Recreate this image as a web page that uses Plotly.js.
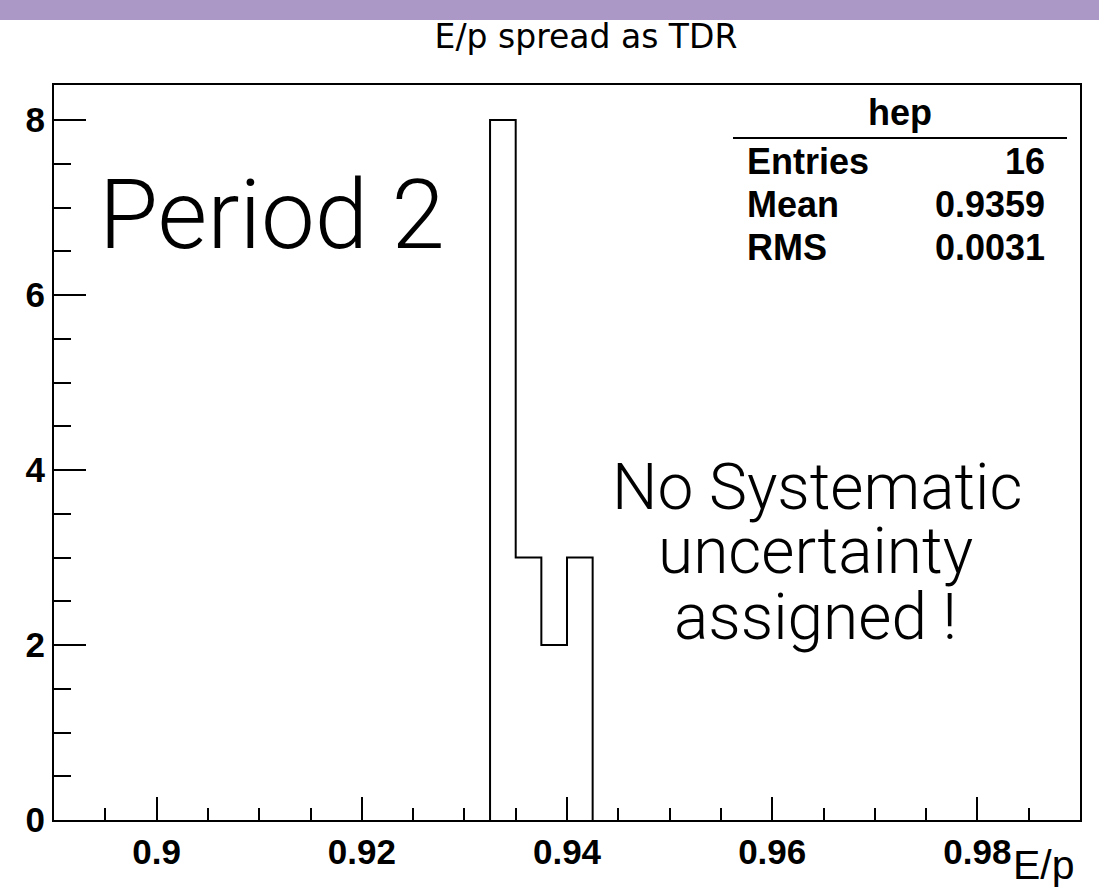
<!DOCTYPE html>
<html>
<head>
<meta charset="utf-8">
<script src="https://cdn.plot.ly/plotly-3.0.1.min.js"></script>
<style>
html,body{margin:0;padding:0;background:#fff;}
#chart{width:1099px;height:894px;}
</style>
</head>
<body>
<div id="chart"></div>
<script>
// Histogram data (bin low edges and counts)
const binLowEdges = [0.9325, 0.935, 0.9375, 0.94];
const binWidth = 0.0025;
const counts = [8, 3, 2, 3];

// Stats box
const statsTitle = "hep";
const statLabels = ["Entries", "Mean", "RMS"];
const statValues = ["16", "0.9359", "0.0031"];

// Step outline built from the bins
const stepX = [binLowEdges[0]];
const stepY = [0];
for (let i = 0; i < counts.length; i++) { stepX.push(binLowEdges[i]); stepY.push(counts[i]); }
stepX.push(binLowEdges[binLowEdges.length - 1] + binWidth); stepY.push(0);

const W = 1099, H = 894;
const L = 54, R = 19, T = 85, B = 74;
const pw = W - L - R, ph = H - T - B;
const px = x => (x - L) / pw;
const py = y => (H - B - y) / ph;

const boldFont = {family: "Liberation Sans, Arial, sans-serif", size: 36, color: "#000", weight: 700};
const lightFont = sz => ({family: "Roboto, 'Open Sans', sans-serif", size: sz, color: "#000", weight: 300});

const annotations = [
  {text: statsTitle, x: px(900), y: py(113), xanchor: "center", yanchor: "middle", font: boldFont},
  {text: "Period 2", x: px(97), y: py(215), xanchor: "left", yanchor: "middle", font: lightFont(96)},
  {text: "No Systematic", x: px(817), y: py(487), xanchor: "center", yanchor: "middle", font: lightFont(64)},
  {text: "uncertainty", x: px(815), y: py(551), xanchor: "center", yanchor: "middle", font: lightFont(64)},
  {text: "assigned !", x: px(815), y: py(617), xanchor: "center", yanchor: "middle", font: lightFont(64)},
  {text: "E/p", x: px(1077), y: py(865), xanchor: "right", yanchor: "middle", font: {family: "Liberation Sans, Arial, sans-serif", size: 41, color: "#000"}}
];
const rowsY = [162, 205, 248];
statLabels.forEach((lab, i) => {
  annotations.push({text: lab, x: px(745), y: py(rowsY[i]), xanchor: "left", yanchor: "middle", font: boldFont});
  annotations.push({text: statValues[i], x: px(1047), y: py(rowsY[i]), xanchor: "right", yanchor: "middle", font: boldFont});
});
annotations.forEach(a => { a.xref = "paper"; a.yref = "paper"; a.showarrow = false; });

const data = [{
  type: "scatter", mode: "lines", x: stepX, y: stepY,
  line: {shape: "hv", color: "#000", width: 2}, hoverinfo: "skip"
}];

const tickFont = {family: "Liberation Sans, Arial, sans-serif", size: 35, color: "#000", weight: 700};

const layout = {
  width: W, height: H,
  margin: {l: L, r: R, t: T, b: B, pad: 0},
  paper_bgcolor: "#fff", plot_bgcolor: "#fff",
  showlegend: false,
  title: {text: "E/p spread as TDR", x: 586 / W, xanchor: "center", y: 1 - 36 / H, yanchor: "middle",
          font: {family: "DejaVu Sans, Liberation Sans, sans-serif", size: 33, color: "#000"}},
  xaxis: {
    range: [0.89, 0.99], tick0: 0.9, dtick: 0.02, ticks: "inside", ticklen: 23, tickwidth: 2, tickcolor: "#000",
    showline: true, linecolor: "#000", linewidth: 2, mirror: true, showgrid: false, zeroline: false,
    tickfont: tickFont,
    minor: {tick0: 0.89, dtick: 0.005, ticks: "inside", ticklen: 12, tickwidth: 2, tickcolor: "#000", showgrid: false}
  },
  yaxis: {
    range: [0, 8.4], tick0: 0, dtick: 2, ticks: "inside", ticklen: 32, tickwidth: 2, tickcolor: "#000",
    showline: true, linecolor: "#000", linewidth: 2, mirror: true, showgrid: false, zeroline: false,
    tickfont: tickFont,
    minor: {tick0: 0, dtick: 0.5, ticks: "inside", ticklen: 17, tickwidth: 2, tickcolor: "#000", showgrid: false}
  },
  annotations: annotations,
  shapes: [
    {type: "rect", xref: "paper", yref: "paper", x0: px(0), x1: px(W), y0: py(20), y1: py(0),
     fillcolor: "#ac98c6", line: {width: 0}, layer: "below"},
    {type: "line", xref: "paper", yref: "paper", x0: px(733), x1: px(1067), y0: py(138), y1: py(138),
     line: {color: "#000", width: 2}}
  ]
};

Plotly.newPlot("chart", data, layout, {displayModeBar: false, staticPlot: true});
</script>
</body>
</html>
